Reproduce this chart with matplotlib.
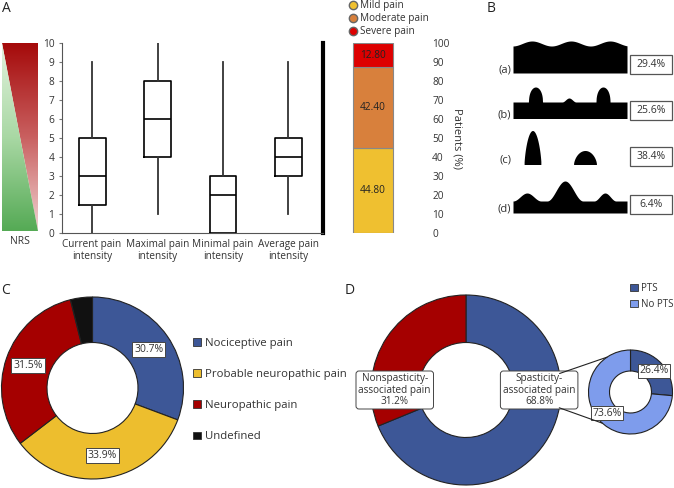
import numpy as np
import matplotlib
matplotlib.use("Agg")
import matplotlib.pyplot as plt
from matplotlib.patches import Rectangle, Patch, Polygon
from matplotlib.lines import Line2D
from matplotlib.colors import LinearSegmentedColormap
from matplotlib.patches import ConnectionPatch

plt.rcParams['font.family'] = ['Open Sans', 'DejaVu Sans']
plt.rcParams['font.size'] = 8
TXT = '#333333'

# ---------------- data ----------------
box_labels = ["Current pain\nintensity", "Maximal pain\nintensity",
              "Minimal pain\nintensity", "Average pain\nintensity"]
box_whislo = [0, 1, 0, 1]
box_q1 = [1.5, 4, 0, 3]
box_med = [3, 6, 2, 4]
box_q3 = [5, 8, 3, 5]
box_whishi = [9, 10, 9, 9]

pain_levels = ["Mild pain", "Moderate pain", "Severe pain"]
pain_pct = [44.80, 42.40, 12.80]
pain_colors = ["#EFC030", "#D8803C", "#DD0000"]

pattern_labels = ["(a)", "(b)", "(c)", "(d)"]
pattern_pct = [29.4, 25.6, 38.4, 6.4]

type_labels = ["Nociceptive pain", "Probable neuropathic pain", "Neuropathic pain", "Undefined"]
type_pct = [30.7, 33.9, 31.5, 3.9]
type_colors = ["#3D5797", "#EDBE2E", "#A50000", "#111111"]

spas_labels = ["Spasticity-\nassociated pain", "Nonspasticity-\nassociated pain"]
spas_pct = [68.8, 31.2]
spas_colors = ["#3D5797", "#A50000"]

pts_labels = ["PTS", "No PTS"]
pts_pct = [26.4, 73.6]
pts_colors = ["#3D5797", "#7E9CEC"]

# ---------------- figure ----------------
W, H = 674, 488
fig = plt.figure(figsize=(W / 100, H / 100), dpi=100)


def px_axes(x0, y0, x1, y1):
    ax = fig.add_axes([x0 / W, 1 - y1 / H, (x1 - x0) / W, (y1 - y0) / H])
    ax.set_facecolor('none')
    return ax


bg = px_axes(0, 0, W, H)
bg.set_xlim(0, W)
bg.set_ylim(H, 0)
bg.axis('off')

# panel letters
for letter, (x, y) in zip("ABCD", [(6, 8), (491, 8), (6, 290), (350, 290)]):
    bg.text(x, y, letter, fontsize=10, ha='center', va='center', color='#222')

# NRS gradient
grad = np.linspace(0, 1, 256).reshape(-1, 1)
red_cmap = LinearSegmentedColormap.from_list('r', ["#A50A0A", "#C96060", "#F0D2D2"])
green_cmap = LinearSegmentedColormap.from_list('g', ["#E2F2DE", "#A9D8A4", "#55AA55"])
im1 = bg.imshow(grad, cmap=red_cmap, extent=(2, 38, 231, 43), aspect='auto')
im1.set_clip_path(Polygon([(2, 43), (38, 43), (38, 231)], closed=True, transform=bg.transData))
im2 = bg.imshow(grad, cmap=green_cmap, extent=(2, 38, 231, 43), aspect='auto')
im2.set_clip_path(Polygon([(2, 43), (2, 231), (38, 231)], closed=True, transform=bg.transData))
bg.set_xlim(0, W)
bg.set_ylim(H, 0)
bg.text(20, 242, "NRS", ha='center', va='center', color=TXT, fontsize=7.5)

# ---------------- panel A boxplot ----------------
axA = px_axes(62, 43, 323, 233)
stats = [dict(med=m, q1=a, q3=b, whislo=lo, whishi=hi, label=l)
         for l, lo, a, m, b, hi in zip(box_labels, box_whislo, box_q1, box_med, box_q3, box_whishi)]
axA.bxp(stats, positions=[1, 2, 3, 4], widths=0.41, showfliers=False, showcaps=False,
        boxprops=dict(color='black', lw=1.2),
        medianprops=dict(color='black', lw=1.2),
        whiskerprops=dict(color='#333333', lw=1.3))
axA.set_xlim(0.54, 4.53)
axA.set_ylim(0, 10)
axA.set_yticks(range(0, 11))
axA.spines['top'].set_visible(False)
axA.spines['left'].set_color('#555555')
axA.spines['bottom'].set_color('#555555')
axA.spines['right'].set_color('black')
axA.spines['right'].set_linewidth(3)
axA.tick_params(axis='y', length=2, pad=3.5, labelsize=7.3, labelcolor=TXT, color='#777777')
axA.tick_params(axis='x', length=0, pad=4, labelsize=7.2, labelcolor=TXT)
for t in axA.get_xticklabels():
    t.set_linespacing(1.15)

# ---------------- stacked bar ----------------
axBar = px_axes(343, 43, 403, 233)
bottom = 0
for v, c in zip(pain_pct, pain_colors):
    axBar.bar(0, v, bottom=bottom, width=1, color=c, edgecolor='#888888', lw=0.8)
    axBar.text(0, bottom + v / 2, f"{v:.2f}", ha='center', va='center', fontsize=7.3, color='#222')
    bottom += v
axBar.set_xlim(-0.75, 0.75)
axBar.set_ylim(0, 100)
axBar.set_xticks([])
axBar.set_yticks(range(0, 101, 10))
axBar.yaxis.tick_right()
axBar.tick_params(axis='y', length=0, pad=21, labelsize=7.3, labelcolor=TXT)
for t in axBar.get_yticklabels():
    t.set_horizontalalignment('left')
for s in axBar.spines.values():
    s.set_visible(False)
bg.text(457, 138, "Patients (%)", rotation=270, ha='center', va='center', color=TXT, fontsize=8)

handles = [Line2D([], [], marker='o', ls='none', markerfacecolor=c, markeredgecolor='#666',
                  markersize=6) for c in pain_colors]
fig.legend(handles, pain_levels, loc='upper left', bbox_to_anchor=(347 / W, 1 - 0 / H),
           frameon=False, handletextpad=0.1, labelspacing=0.2, borderpad=0, borderaxespad=0,
           handlelength=1.2, fontsize=7.2, labelcolor=TXT)

# ---------------- panel B illustrations ----------------
x = np.linspace(513, 627, 600)


def arch(c, hw, h, p=0.5):
    u = np.clip(1 - ((x - c) / hw) ** 2, 0, 1)
    return h * u ** p


def cosb(c, hw, h):
    u = np.clip((x - c) / hw, -1, 1)
    return h * 0.5 * (1 + np.cos(np.pi * u))


# (a)
top_a = 43.5 - 2.5 * np.cos(2 * np.pi * (x - 532) / 39)
bg.fill_between(x, top_a, 73, color='black', lw=0)
# (b)
top_b = 102 - arch(535.5, 7, 15, 0.45) - arch(603, 7, 15, 0.45) - cosb(569, 7, 4)
bg.fill_between(x, top_b, 118.5, color='black', lw=0)
# (c)
s1 = arch(533, 8.5, 34, 0.7)
s2 = arch(585.5, 11.5, 14, 0.6)
sp = s1 + s2
bg.fill_between(x, 165 - sp, 165, where=sp > 0, color='black', lw=0)
# (d)
top_d = 201 - cosb(527, 14, 8) - cosb(565, 18, 20) - cosb(605, 11, 8)
bg.fill_between(x, top_d, 213, color='black', lw=0)

for lab, yc in zip(pattern_labels, [70, 115, 160, 209]):
    bg.text(511, yc, lab, ha='right', va='center', color=TXT, fontsize=8)
for pct, y0 in zip(pattern_pct, [55, 101, 147, 195]):
    bg.add_patch(Rectangle((630, y0), 42, 19, facecolor='white', edgecolor='#555', lw=0.9))
    bg.text(651, y0 + 9.5, f"{pct:.1f}%", ha='center', va='center', color=TXT, fontsize=7.5)

# ---------------- panel C donut ----------------
def donut_axes(cx, cy, R, margin=2):
    half = R + margin
    ax = px_axes(cx - half, cy - half, cx + half, cy + half)
    ax.set_xlim(-half / R, half / R)
    ax.set_ylim(-half / R, half / R)
    ax.set_aspect('equal')
    ax.axis('off')
    return ax


axC = donut_axes(92.5, 388, 91)
wedges, _ = axC.pie(type_pct, colors=type_colors, startangle=90, counterclock=False,
                    radius=1, wedgeprops=dict(width=0.5, edgecolor='#222', linewidth=0.8))
axC.set_xlim(-93 / 91, 93 / 91)
axC.set_ylim(-93 / 91, 93 / 91)
for w, v in zip(wedges[:3], type_pct[:3]):
    ang = np.deg2rad((w.theta1 + w.theta2) / 2)
    axC.text(0.75 * np.cos(ang), 0.75 * np.sin(ang), f"{v:.1f}%", ha='center', va='center',
             fontsize=7.5, color=TXT,
             bbox=dict(boxstyle='square,pad=0.2', fc='white', ec='#444', lw=0.7))

fig.legend([Patch(facecolor=c, edgecolor='#333', lw=0.6) for c in type_colors], type_labels,
           loc='upper left', bbox_to_anchor=(193 / W, 1 - 338 / H), frameon=False,
           handlelength=0.7, handleheight=0.7, handletextpad=0.35, labelspacing=1.77,
           borderpad=0, borderaxespad=0, fontsize=8.2, labelcolor=TXT)

# ---------------- panel D donuts ----------------
axD = donut_axes(466, 390, 95)
wD, _ = axD.pie(spas_pct, colors=spas_colors, startangle=90, counterclock=False,
                radius=1, wedgeprops=dict(width=0.5, edgecolor='#222', linewidth=0.8))
axD.set_xlim(-97 / 95, 97 / 95)
axD.set_ylim(-97 / 95, 97 / 95)
for lab, v, xs in zip(spas_labels, spas_pct, [0.77, -0.75]):
    axD.text(xs, 0, f"{lab}\n{v:.1f}%", ha='center', va='center', fontsize=7.2, color=TXT,
             linespacing=1.0,
             bbox=dict(boxstyle='round,pad=0.25,rounding_size=0.3', fc='white', ec='#444', lw=0.7))

axS = donut_axes(630.5, 392, 42)
wS, _ = axS.pie(pts_pct, colors=pts_colors, startangle=90, counterclock=False,
                radius=1, wedgeprops=dict(width=0.5, edgecolor='#222', linewidth=0.8))
axS.set_xlim(-44 / 42, 44 / 42)
axS.set_ylim(-44 / 42, 44 / 42)
for w, v in zip(wS, pts_pct):
    ang = np.deg2rad((w.theta1 + w.theta2) / 2)
    axS.text(0.75 * np.cos(ang), 0.75 * np.sin(ang), f"{v:.1f}%", ha='center', va='center',
             fontsize=7.5, color=TXT,
             bbox=dict(boxstyle='square,pad=0.15', fc='white', ec='#444', lw=0.7))

for a_big, a_small in [(10, 124), (-10.8, -132)]:
    rb, rs = np.deg2rad(a_big), np.deg2rad(a_small)
    con = ConnectionPatch(xyA=(np.cos(rb), np.sin(rb)), coordsA=axD.transData,
                          xyB=(np.cos(rs), np.sin(rs)), coordsB=axS.transData,
                          color='#222', lw=0.8)
    fig.add_artist(con)

fig.legend([Patch(facecolor=c, edgecolor='#333', lw=0.6) for c in pts_colors], pts_labels,
           loc='upper left', bbox_to_anchor=(630 / W, 1 - 283 / H), frameon=False,
           handlelength=0.8, handleheight=0.8, handletextpad=0.35, labelspacing=0.5,
           borderpad=0, borderaxespad=0, fontsize=7, labelcolor=TXT)

fig.savefig("out.png", dpi=100)
